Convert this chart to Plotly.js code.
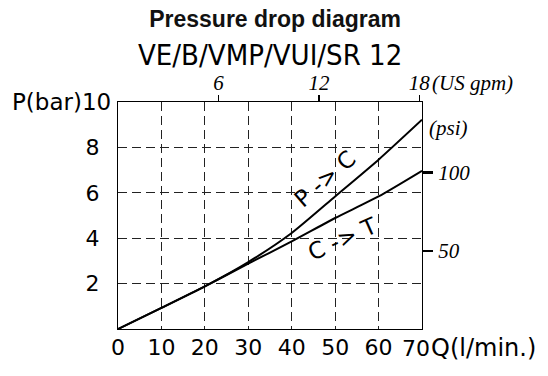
<!DOCTYPE html>
<html>
<head>
<meta charset="utf-8">
<script src="https://cdn.plot.ly/plotly-3.0.1.min.js"></script>
<style>html,body{margin:0;padding:0;background:#fff;}#chart{width:548px;height:376px;}</style>
</head>
<body>
<div id="chart"></div>
<script>
// Flow Q (l/min) and pressure drop (bar)
var flowLpm = [0, 10, 20, 30, 40, 50, 60, 70];
var dropPtoC = [0, 0.93, 1.88, 2.95, 4.23, 5.84, 7.46, 9.22];
var dropCtoT = [0, 0.93, 1.88, 2.88, 3.86, 4.89, 5.84, 6.97];

var xTicks = [0, 10, 20, 30, 40, 50, 60];
var yTicks = [2, 4, 6, 8];
var gpmTicks = [6, 12, 18];
var psiTicks = [50, 100];

var sans = 'DejaVu Sans, Verdana, sans-serif';
var cond = 'DejaVu Sans Condensed, Liberation Sans Narrow, sans-serif';
var serif = 'Liberation Serif, DejaVu Serif, serif';

var line = {color: 'black', width: 2, shape: 'spline', smoothing: 0.6};
var data = [
  {x: flowLpm, y: dropPtoC, mode: 'lines', line: line, name: 'P -> C', hoverinfo: 'skip'},
  {x: flowLpm, y: dropCtoT, mode: 'lines', line: line, name: 'C -> T', hoverinfo: 'skip'},
  {x: [], y: [], xaxis: 'x2', yaxis: 'y2', mode: 'lines', showlegend: false}
];

var gridStyle = {showgrid: true, gridcolor: '#222', griddash: '9px,5px', gridwidth: 1};

var layout = {
  width: 548, height: 376,
  margin: {l: 118, r: 126, t: 102, b: 47},
  paper_bgcolor: 'white', plot_bgcolor: 'white',
  showlegend: false,
  title: {text: '<b>Pressure drop diagram</b>', font: {family: 'Liberation Sans, Arial, sans-serif', size: 23, color: '#111'},
          x: 0.502, xanchor: 'center', xref: 'container', y: 1 - 18.5/376, yanchor: 'middle', yref: 'container'},
  xaxis: Object.assign({range: [0, 70], tickvals: xTicks, ticktext: xTicks.map(String), ticks: '',
    showline: true, linecolor: 'black', linewidth: 1, zeroline: false,
    tickfont: {family: sans, size: 22, color: 'black'}, ticklabelstandoff: -1, fixedrange: true}, gridStyle),
  yaxis: Object.assign({range: [0, 10], tickvals: yTicks, ticktext: yTicks.map(String), ticks: '',
    showline: true, linecolor: 'black', linewidth: 1, zeroline: false,
    tickfont: {family: sans, size: 22, color: 'black'}, ticklabelstandoff: 13, fixedrange: true}, gridStyle),
  xaxis2: {overlaying: 'x', side: 'top', range: [0, 18.16], tickvals: gpmTicks, ticktext: gpmTicks.map(String),
    ticks: 'outside', ticklen: 6, tickwidth: 1.5, tickcolor: 'black', showgrid: false, zeroline: false,
    showline: true, linecolor: 'black', linewidth: 1, ticklabelstandoff: -3,
    tickfont: {family: serif, size: 21, color: 'black', style: 'italic'}, fixedrange: true},
  yaxis2: {overlaying: 'y', side: 'right', range: [0, 145.04], tickvals: psiTicks, ticktext: psiTicks.map(String),
    ticks: 'outside', ticklen: 10, tickwidth: 2.5, tickcolor: 'black', showgrid: false, zeroline: false,
    showline: true, linecolor: 'black', linewidth: 1, ticklabelstandoff: 1,
    tickfont: {family: serif, size: 21, color: 'black', style: 'italic'}, fixedrange: true},
  annotations: [
    {text: 'VE/B/VMP/VUI/SR 12', xref: 'paper', yref: 'paper', x: 0.5, y: 1.206, xanchor: 'center', yanchor: 'middle',
     showarrow: false, font: {family: cond, size: 29, color: 'black'}},
    {text: 'P(bar)10', xref: 'paper', yref: 'y', x: -0.016, y: 10, xanchor: 'right', yanchor: 'middle',
     showarrow: false, font: {family: sans, size: 23, color: 'black'}},
    {text: '(psi)', xref: 'paper', yref: 'y', x: 1.0155, y: 8.85, xanchor: 'left', yanchor: 'middle',
     showarrow: false, font: {family: serif, size: 21, color: 'black', style: 'italic'}},
    {text: '(US gpm)', xref: 'paper', yref: 'paper', x: 1.026, y: 1.0837, xanchor: 'left', yanchor: 'middle',
     showarrow: false, font: {family: serif, size: 21, color: 'black', style: 'italic'}},
    {text: '70', xref: 'x', yref: 'paper', x: 70, xshift: -6, y: -0.0855, xanchor: 'center', yanchor: 'middle',
     showarrow: false, font: {family: sans, size: 22, color: 'black'}},
    {text: 'Q(l/min.)', xref: 'paper', yref: 'paper', x: 1.022, y: -0.0855, xanchor: 'left', yanchor: 'middle',
     showarrow: false, font: {family: sans, size: 24, color: 'black'}},
    {text: 'P -> C', xref: 'x', yref: 'y', x: 47.6, y: 6.6, textangle: -41, showarrow: false,
     font: {family: sans, size: 23, color: 'black'}},
    {text: 'C -> T', xref: 'x', yref: 'y', x: 51.6, y: 3.98, textangle: -24, showarrow: false,
     font: {family: sans, size: 23, color: 'black'}}
  ]
};

Plotly.newPlot('chart', data, layout, {staticPlot: true, displayModeBar: false});
</script>
</body>
</html>
